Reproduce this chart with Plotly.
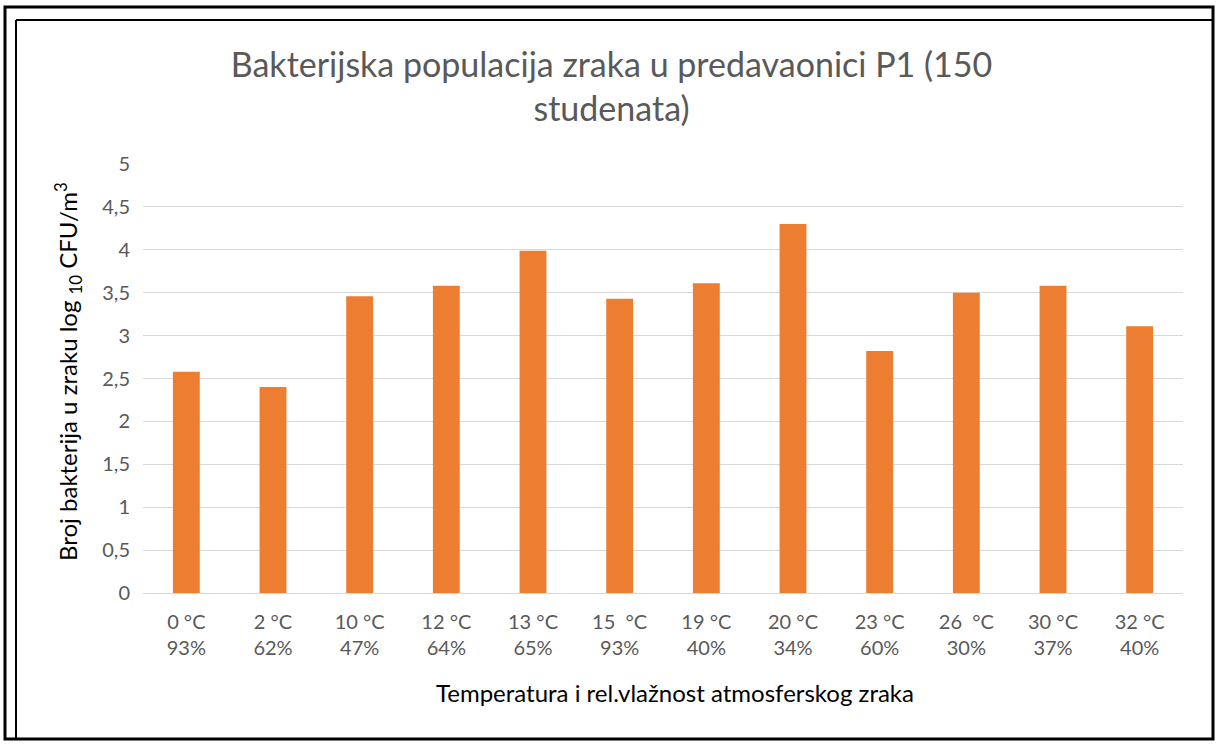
import plotly.graph_objects as go

temperatures = ["0 °C", "2 °C", "10 °C", "12 °C", "13 °C", "15 \u00a0°C",
                "19 °C", "20 °C", "23 °C", "26 \u00a0°C", "30 °C", "32 °C"]
humidity = ["93%", "62%", "47%", "64%", "65%", "93%",
            "40%", "34%", "60%", "30%", "37%", "40%"]
log_cfu = [2.58, 2.40, 3.46, 3.58, 3.99, 3.43,
           3.61, 4.30, 2.82, 3.50, 3.58, 3.11]

categories = [f"{t}<br>{h}" for t, h in zip(temperatures, humidity)]

title_text = "Bakterijska populacija zraka u predavaonici P1 (150<br>studenata)"
x_title = "Temperatura i rel.vlažnost atmosferskog zraka"
y_title = "Broj bakterija u zraku log <sub>10</sub> CFU/m<sup>3</sup>"

W, H = 1223, 745
L, R, T, B = 143, 1183, 164, 593
pw, ph = R - L, B - T

def px(x):
    return (x - L) / pw

def py(y):
    return (B - y) / ph

fig = go.Figure(go.Bar(
    x=categories, y=log_cfu,
    marker=dict(color="#ED7D31", line=dict(width=0)),
    hoverinfo="x+y",
))

font_family = "Lato, Carlito, 'Open Sans', sans-serif"

fig.update_layout(
    width=W, height=H,
    margin=dict(l=L, r=W - R, t=T, b=H - B, pad=0),
    paper_bgcolor="white", plot_bgcolor="white",
    separators=", ",
    bargap=0.69,
    showlegend=False,
    font=dict(family=font_family, color="#595959", size=20),
    title=dict(text=title_text, x=0.5, xanchor="center", xref="container",
               y=1 - 77 / H, yanchor="middle",
               font=dict(family=font_family, size=34, color="#595959")),
    xaxis=dict(showgrid=False, showline=True, linecolor="#D9D9D9", linewidth=1,
               ticks="", tickfont=dict(size=20, color="#595959"),
               ticklabelstandoff=11, fixedrange=True),
    yaxis=dict(range=[0, 5], dtick=0.5, tick0=0, showgrid=True,
               gridcolor="#D9D9D9", gridwidth=1, zeroline=False,
               showline=False, ticks="", ticklabelstandoff=12,
               tickfont=dict(size=20, color="#595959"), fixedrange=True),
    annotations=[
        dict(text=x_title, xref="paper", yref="paper", x=px(675), y=py(692),
             xanchor="center", yanchor="middle", showarrow=False,
             font=dict(family=font_family, size=24, color="#000000")),
        dict(text=y_title, xref="paper", yref="paper", x=px(68), y=py(372),
             xanchor="center", yanchor="middle", showarrow=False, textangle=-90,
             font=dict(family=font_family, size=24, color="#000000")),
    ],
    shapes=[
        dict(type="rect", xref="paper", yref="paper",
             x0=px(5), x1=px(1213), y0=py(739), y1=py(7),
             line=dict(color="black", width=3), fillcolor="rgba(0,0,0,0)"),
        dict(type="line", xref="paper", yref="paper",
             x0=px(16), x1=px(16), y0=py(739), y1=py(20),
             line=dict(color="black", width=2)),
        dict(type="line", xref="paper", yref="paper",
             x0=px(16), x1=px(1213), y0=py(20), y1=py(20),
             line=dict(color="black", width=2)),
    ],
)

fig.write_html("out.html",
               config={"displayModeBar": False},
               post_script="document.body.style.margin='0';document.body.style.overflow='hidden';")
